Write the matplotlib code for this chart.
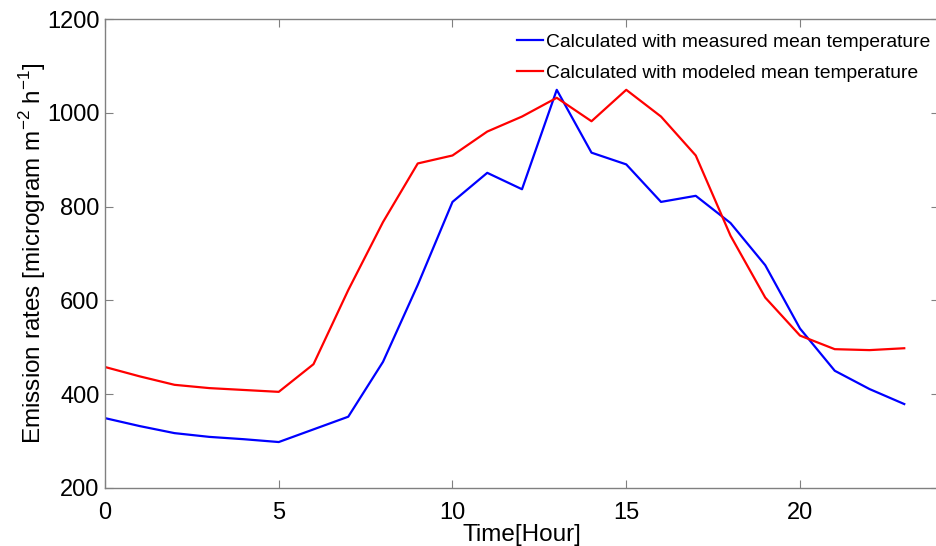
import matplotlib
matplotlib.use("Agg")
import matplotlib.pyplot as plt

plt.rcParams['font.family'] = ['Liberation Sans', 'DejaVu Sans']

hours = list(range(24))
measured = [349, 332, 317, 309, 304, 298, 325, 352, 469, 633, 810, 872,
            837, 1049, 915, 890, 810, 823, 765, 675, 540, 450, 411, 379]
modeled = [458, 438, 420, 413, 409, 405, 464, 622, 767, 892, 909, 960,
           992, 1032, 982, 1049, 992, 909, 738, 606, 525, 496, 494, 498]

fig = plt.figure(figsize=(9.37, 5.46), dpi=100)
ax = fig.add_axes([105 / 937, 1 - 488 / 546, (939 - 105) / 937, (488 - 19) / 546])

ax.plot(hours, measured, color='#0000ff', lw=1.6, label='Calculated with measured mean temperature')
ax.plot(hours, modeled, color='#ff0000', lw=1.6, label='Calculated with modeled mean temperature')

ax.set_xlim(0, 24)
ax.set_ylim(200, 1200)
ax.set_xticks([0, 5, 10, 15, 20])
ax.set_yticks(range(200, 1201, 200))
ax.tick_params(direction='in', length=6, color='#808080', labelsize=17,
               top=True, right=True)
ax.tick_params(axis='x', pad=10)
ax.tick_params(axis='y', pad=4)
for s in ax.spines.values():
    s.set_color('#808080')
    s.set_linewidth(1.0)

ax.set_xlabel('Time[Hour]', fontsize=17.5, labelpad=0)
ax.set_ylabel(r'Emission rates [microgram m$^{\mathregular{-2}}$ h$^{\mathregular{-1}}$]',
              fontsize=17.5, labelpad=-1)

# legend: no frame, top right, pushed a bit down like the original
ax.legend(loc='upper right', frameon=False, fontsize=13.9, handlelength=1.3,
          handletextpad=0.2, borderpad=0, borderaxespad=0, labelspacing=0.7,
          bbox_to_anchor=(0.99, 0.97))

fig.savefig('out.png', dpi=100)
